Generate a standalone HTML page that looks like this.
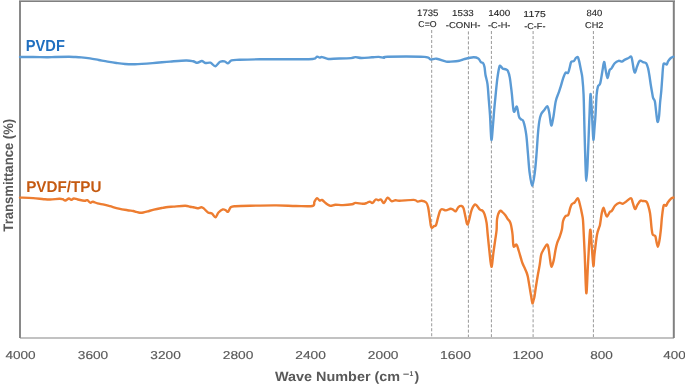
<!DOCTYPE html>
<html><head><meta charset="utf-8"><style>
html,body{margin:0;padding:0;background:#fff;}
body{width:685px;height:385px;overflow:hidden;}
svg{display:block;font-family:"Liberation Sans", sans-serif;will-change:transform;text-rendering:geometricPrecision;}
</style></head><body>
<svg width="685" height="385" viewBox="0 0 685 385">
<rect x="0" y="0" width="685" height="385" fill="#fff"/>
<g stroke="#999" stroke-width="1" stroke-dasharray="3.1,1.87" fill="none">
<line x1="431.7" y1="30" x2="431.7" y2="337" />
<line x1="468.4" y1="31.4" x2="468.4" y2="337" />
<line x1="491.4" y1="31" x2="491.4" y2="337" />
<line x1="533.1" y1="31" x2="533.1" y2="337" />
<line x1="593.4" y1="31" x2="593.4" y2="337" />
</g>
<rect x="20" y="337" width="654" height="2" fill="#c2c2c2"/>
<rect x="19" y="0" width="2" height="338" fill="#898989"/>
<rect x="672.8" y="0" width="2" height="338" fill="#808080"/>
<rect x="19" y="0" width="655.8" height="1" fill="#b0b0b0"/><rect x="19" y="1" width="655.8" height="1" fill="#808080"/>
<g fill="none" stroke-linejoin="round" stroke-linecap="round" stroke-width="2.4">
<path d="M20.00,57.00 C22.17,57.00 28.33,56.95 33.00,57.00 C37.67,57.05 44.33,57.30 48.00,57.30 C51.67,57.30 51.50,57.08 55.00,57.00 C58.50,56.92 65.67,56.80 69.00,56.80 C72.33,56.80 72.95,56.90 75.00,57.00 C77.05,57.10 78.80,57.17 81.30,57.40 C83.80,57.63 87.08,57.97 90.00,58.40 C92.92,58.83 95.87,59.47 98.80,60.00 C101.73,60.53 104.67,61.10 107.60,61.60 C110.53,62.10 113.50,62.60 116.40,63.00 C119.30,63.40 121.90,63.80 125.00,64.00 C128.10,64.20 130.40,64.35 135.00,64.20 C139.60,64.05 146.77,63.53 152.60,63.10 C158.43,62.67 164.43,62.03 170.00,61.60 C175.57,61.17 182.17,60.57 186.00,60.50 C189.83,60.43 191.12,60.82 193.00,61.20 C194.88,61.58 195.83,62.83 197.30,62.80 C198.77,62.77 200.47,60.97 201.80,61.00 C203.13,61.03 203.85,62.72 205.30,63.00 C206.75,63.28 208.83,62.17 210.50,62.70 C212.17,63.23 213.70,66.35 215.30,66.20 C216.90,66.05 218.57,62.60 220.10,61.80 C221.63,61.00 223.18,61.15 224.50,61.40 C225.82,61.65 226.83,63.47 228.00,63.30 C229.17,63.13 229.58,60.98 231.50,60.40 C233.42,59.82 234.75,59.98 239.50,59.80 C244.25,59.62 251.58,59.40 260.00,59.30 C268.42,59.20 281.23,59.25 290.00,59.20 C298.77,59.15 308.10,59.43 312.60,59.00 C317.10,58.57 315.83,56.83 317.00,56.60 C318.17,56.37 318.73,57.52 319.60,57.60 C320.47,57.68 320.75,56.87 322.20,57.10 C323.65,57.33 326.40,58.73 328.30,59.00 C330.20,59.27 329.82,58.85 333.60,58.70 C337.38,58.55 347.35,58.37 351.00,58.10 C354.65,57.83 353.73,57.12 355.50,57.10 C357.27,57.08 358.85,57.97 361.60,58.00 C364.35,58.03 369.13,57.48 372.00,57.30 C374.87,57.12 376.80,56.82 378.80,56.90 C380.80,56.98 382.55,57.83 384.00,57.80 C385.45,57.77 380.78,56.85 387.50,56.70 C394.22,56.55 417.15,56.45 424.30,56.90 C431.45,57.35 428.35,59.10 430.40,59.40 C432.45,59.70 433.97,58.33 436.60,58.70 C439.23,59.07 443.87,61.12 446.20,61.60 C448.53,62.08 448.42,61.73 450.60,61.60 C452.78,61.47 456.97,61.23 459.30,60.80 C461.63,60.37 462.25,59.58 464.60,59.00 C466.95,58.42 471.12,57.38 473.40,57.30 C475.68,57.22 477.05,57.70 478.30,58.50 C479.55,59.30 480.10,61.33 480.90,62.10 C481.70,62.87 482.50,62.27 483.10,63.10 C483.70,63.93 484.10,65.12 484.50,67.10 C484.90,69.08 485.00,72.15 485.50,75.00 C486.00,77.85 486.95,80.03 487.50,84.20 C488.05,88.37 488.38,94.87 488.80,100.00 C489.22,105.13 489.57,108.37 490.00,115.00 C490.43,121.63 490.90,138.13 491.40,139.80 C491.90,141.47 492.53,129.97 493.00,125.00 C493.47,120.03 493.80,114.62 494.20,110.00 C494.60,105.38 494.88,102.48 495.40,97.30 C495.92,92.12 496.65,83.93 497.30,78.90 C497.95,73.87 498.75,69.25 499.30,67.10 C499.85,64.95 500.05,65.78 500.60,66.00 C501.15,66.22 501.72,67.83 502.60,68.40 C503.48,68.97 505.02,68.97 505.90,69.40 C506.78,69.83 507.25,69.63 507.90,71.00 C508.55,72.37 509.15,73.87 509.80,77.60 C510.45,81.33 511.13,87.77 511.80,93.40 C512.47,99.03 512.97,109.20 513.80,111.40 C514.63,113.60 515.93,105.72 516.80,106.60 C517.67,107.48 518.30,114.58 519.00,116.70 C519.70,118.82 520.27,118.53 521.00,119.30 C521.73,120.07 522.53,118.78 523.40,121.30 C524.27,123.82 525.45,129.12 526.20,134.40 C526.95,139.68 527.33,146.65 527.90,153.00 C528.47,159.35 528.88,167.00 529.60,172.50 C530.32,178.00 531.33,186.00 532.20,186.00 C533.07,186.00 534.07,178.00 534.80,172.50 C535.53,167.00 536.08,159.37 536.60,153.00 C537.12,146.63 537.45,139.57 537.90,134.30 C538.35,129.03 538.77,124.73 539.30,121.40 C539.83,118.07 540.27,116.20 541.10,114.30 C541.93,112.40 543.25,111.35 544.30,110.00 C545.35,108.65 546.57,105.72 547.40,106.20 C548.23,106.68 548.75,110.12 549.30,112.90 C549.85,115.68 550.30,120.88 550.70,122.90 C551.10,124.92 551.22,126.20 551.70,125.00 C552.18,123.80 552.93,119.63 553.60,115.70 C554.27,111.77 554.87,105.20 555.70,101.40 C556.53,97.60 557.77,95.37 558.60,92.90 C559.43,90.43 560.00,88.85 560.70,86.60 C561.40,84.35 562.02,81.68 562.80,79.40 C563.58,77.12 564.53,73.98 565.40,72.90 C566.27,71.82 567.32,73.65 568.00,72.90 C568.68,72.15 568.97,70.23 569.50,68.40 C570.03,66.57 570.48,63.10 571.20,61.90 C571.92,60.70 573.03,61.85 573.80,61.20 C574.57,60.55 575.15,58.70 575.80,58.00 C576.45,57.30 577.17,56.57 577.70,57.00 C578.23,57.43 578.45,58.38 579.00,60.60 C579.55,62.82 580.45,67.48 581.00,70.30 C581.55,73.12 581.87,73.38 582.30,77.50 C582.73,81.62 583.23,86.25 583.60,95.00 C583.97,103.75 584.18,118.33 584.50,130.00 C584.82,141.67 585.18,156.55 585.50,165.00 C585.82,173.45 586.07,180.70 586.40,180.70 C586.73,180.70 587.12,172.62 587.50,165.00 C587.88,157.38 588.37,143.33 588.70,135.00 C589.03,126.67 589.20,121.83 589.50,115.00 C589.80,108.17 590.12,94.83 590.50,94.00 C590.88,93.17 591.47,104.83 591.80,110.00 C592.13,115.17 592.23,120.03 592.50,125.00 C592.77,129.97 593.07,139.30 593.40,139.80 C593.73,140.30 594.15,132.13 594.50,128.00 C594.85,123.87 595.15,120.50 595.50,115.00 C595.85,109.50 596.20,99.73 596.60,95.00 C597.00,90.27 597.30,88.55 597.90,86.60 C598.50,84.65 599.45,85.90 600.20,83.30 C600.95,80.70 601.75,74.57 602.40,71.00 C603.05,67.43 603.57,62.12 604.10,61.90 C604.63,61.68 605.02,67.00 605.60,69.70 C606.18,72.40 606.95,78.00 607.60,78.10 C608.25,78.20 608.85,71.92 609.50,70.30 C610.15,68.68 610.63,69.58 611.50,68.40 C612.37,67.22 613.52,64.47 614.70,63.20 C615.88,61.93 617.40,61.07 618.60,60.80 C619.80,60.53 620.92,61.75 621.90,61.60 C622.88,61.45 623.38,60.50 624.50,59.90 C625.62,59.30 627.48,58.53 628.60,58.00 C629.72,57.47 630.55,56.05 631.20,56.70 C631.85,57.35 632.07,59.73 632.50,61.90 C632.93,64.07 633.37,67.97 633.80,69.70 C634.23,71.43 634.55,72.85 635.10,72.30 C635.65,71.75 636.33,68.32 637.10,66.40 C637.87,64.48 638.73,61.52 639.70,60.80 C640.67,60.08 641.82,61.70 642.90,62.10 C643.98,62.50 645.33,62.15 646.20,63.20 C647.07,64.25 647.57,66.35 648.10,68.40 C648.63,70.45 648.95,72.73 649.40,75.50 C649.85,78.27 650.37,82.25 650.80,85.00 C651.23,87.75 651.62,89.85 652.00,92.00 C652.38,94.15 652.62,96.33 653.10,97.90 C653.58,99.47 654.42,99.27 654.90,101.40 C655.38,103.53 655.57,107.30 656.00,110.70 C656.43,114.10 657.00,120.82 657.50,121.80 C658.00,122.78 658.57,119.82 659.00,116.60 C659.43,113.38 659.72,106.80 660.10,102.50 C660.48,98.20 660.97,94.55 661.30,90.80 C661.63,87.05 661.77,84.28 662.10,80.00 C662.43,75.72 662.82,67.80 663.30,65.10 C663.78,62.40 664.43,63.90 665.00,63.80 C665.57,63.70 666.17,64.93 666.70,64.50 C667.23,64.07 667.52,62.28 668.20,61.20 C668.88,60.12 669.93,58.75 670.80,58.00 C671.67,57.25 672.97,56.92 673.40,56.70" stroke="#5b9bd5"/>
<path d="M20.00,197.60 C22.18,197.68 29.15,197.83 33.10,198.10 C37.05,198.37 40.85,198.97 43.70,199.20 C46.55,199.43 47.58,199.58 50.20,199.50 C52.82,199.42 57.32,198.75 59.40,198.70 C61.48,198.65 61.72,198.90 62.70,199.20 C63.68,199.50 64.27,200.62 65.30,200.50 C66.33,200.38 67.92,198.60 68.90,198.50 C69.88,198.40 70.37,199.90 71.20,199.90 C72.03,199.90 72.80,198.57 73.90,198.50 C75.00,198.43 76.05,199.12 77.80,199.50 C79.55,199.88 82.82,200.68 84.40,200.80 C85.98,200.92 86.32,199.88 87.30,200.20 C88.28,200.52 89.37,202.43 90.30,202.70 C91.23,202.97 91.70,201.68 92.90,201.80 C94.10,201.92 95.63,202.92 97.50,203.40 C99.37,203.88 102.02,204.23 104.10,204.70 C106.18,205.17 107.55,205.55 110.00,206.20 C112.45,206.85 115.88,207.93 118.80,208.60 C121.72,209.27 125.10,209.80 127.50,210.20 C129.90,210.60 131.73,210.72 133.20,211.00 C134.67,211.28 135.20,211.62 136.30,211.90 C137.40,212.18 138.63,212.60 139.80,212.70 C140.97,212.80 141.98,212.72 143.30,212.50 C144.62,212.28 145.93,211.88 147.70,211.40 C149.47,210.92 151.42,210.18 153.90,209.60 C156.38,209.02 160.25,208.33 162.60,207.90 C164.95,207.47 166.22,207.22 168.00,207.00 C169.78,206.78 170.43,206.80 173.30,206.60 C176.17,206.40 182.42,205.77 185.20,205.80 C187.98,205.83 188.62,206.55 190.00,206.80 C191.38,207.05 192.27,207.05 193.50,207.30 C194.73,207.55 196.08,208.30 197.40,208.30 C198.72,208.30 200.30,207.25 201.40,207.30 C202.50,207.35 202.90,207.73 204.00,208.60 C205.10,209.47 206.68,211.70 208.00,212.50 C209.32,213.30 210.67,212.60 211.90,213.40 C213.13,214.20 214.30,217.45 215.40,217.30 C216.50,217.15 217.27,213.82 218.50,212.50 C219.73,211.18 221.57,209.77 222.80,209.40 C224.03,209.03 225.02,209.90 225.90,210.30 C226.78,210.70 227.30,212.30 228.10,211.80 C228.90,211.30 229.47,208.23 230.70,207.30 C231.93,206.37 232.28,206.47 235.50,206.20 C238.72,205.93 243.20,205.83 250.00,205.70 C256.80,205.57 268.63,205.35 276.30,205.40 C283.97,205.45 289.98,205.90 296.00,206.00 C302.02,206.10 309.33,206.70 312.40,206.00 C315.47,205.30 313.63,203.12 314.40,201.80 C315.17,200.48 316.13,198.32 317.00,198.10 C317.87,197.88 318.77,200.20 319.60,200.50 C320.43,200.80 321.00,199.47 322.00,199.90 C323.00,200.33 324.23,202.12 325.60,203.10 C326.97,204.08 328.57,205.53 330.20,205.80 C331.83,206.07 333.28,204.82 335.40,204.70 C337.52,204.58 340.12,205.18 342.90,205.10 C345.68,205.02 350.02,204.57 352.10,204.20 C354.18,203.83 353.65,202.97 355.40,202.90 C357.15,202.83 360.75,203.77 362.60,203.80 C364.45,203.83 365.30,203.47 366.50,203.10 C367.70,202.73 368.80,201.63 369.80,201.60 C370.80,201.57 371.52,203.25 372.50,202.90 C373.48,202.55 374.72,199.95 375.70,199.50 C376.68,199.05 377.52,200.20 378.40,200.20 C379.28,200.20 380.08,199.02 381.00,199.50 C381.92,199.98 382.80,203.42 383.90,203.10 C385.00,202.78 386.33,197.92 387.60,197.60 C388.87,197.28 390.20,200.77 391.50,201.20 C392.80,201.63 394.08,200.27 395.40,200.20 C396.72,200.13 396.33,200.85 399.40,200.80 C402.47,200.75 410.73,199.77 413.80,199.90 C416.87,200.03 416.48,201.45 417.80,201.60 C419.12,201.75 420.30,200.65 421.70,200.80 C423.10,200.95 425.13,201.45 426.20,202.50 C427.27,203.55 427.55,204.80 428.10,207.10 C428.65,209.40 429.05,213.23 429.50,216.30 C429.95,219.37 430.42,223.53 430.80,225.50 C431.18,227.47 431.25,228.00 431.80,228.10 C432.35,228.20 433.40,226.58 434.10,226.10 C434.80,225.62 435.35,226.62 436.00,225.20 C436.65,223.78 437.33,219.97 438.00,217.60 C438.67,215.23 439.35,212.42 440.00,211.00 C440.65,209.58 440.92,209.20 441.90,209.10 C442.88,209.00 444.47,210.47 445.90,210.40 C447.33,210.33 449.30,208.82 450.50,208.70 C451.70,208.58 452.23,209.27 453.10,209.70 C453.97,210.13 454.82,211.73 455.70,211.30 C456.58,210.87 457.42,207.98 458.40,207.10 C459.38,206.22 460.73,205.78 461.60,206.00 C462.47,206.22 462.93,206.47 463.60,208.40 C464.27,210.33 464.98,214.93 465.60,217.60 C466.22,220.27 466.72,223.97 467.30,224.40 C467.88,224.83 468.40,222.53 469.10,220.20 C469.80,217.87 470.55,213.02 471.50,210.40 C472.45,207.78 473.82,205.17 474.80,204.50 C475.78,203.83 476.53,205.53 477.40,206.40 C478.27,207.27 479.12,208.97 480.00,209.70 C480.88,210.43 481.93,210.03 482.70,210.80 C483.47,211.57 483.95,212.28 484.60,214.30 C485.25,216.32 486.10,219.72 486.60,222.90 C487.10,226.08 487.15,228.88 487.60,233.40 C488.05,237.92 488.67,244.43 489.30,250.00 C489.93,255.57 490.70,266.47 491.40,266.80 C492.10,267.13 492.87,256.47 493.50,252.00 C494.13,247.53 494.68,243.67 495.20,240.00 C495.72,236.33 496.28,233.52 496.60,230.00 C496.92,226.48 496.57,222.07 497.10,218.90 C497.63,215.73 498.92,212.13 499.80,211.00 C500.68,209.87 501.47,211.40 502.40,212.10 C503.33,212.80 504.52,214.05 505.40,215.20 C506.28,216.35 506.98,217.97 507.70,219.00 C508.42,220.03 509.17,220.48 509.70,221.40 C510.23,222.32 510.55,223.20 510.90,224.50 C511.25,225.80 511.52,227.45 511.80,229.20 C512.08,230.95 512.30,232.13 512.60,235.00 C512.90,237.87 512.95,244.80 513.60,246.40 C514.25,248.00 515.63,243.83 516.50,244.60 C517.37,245.37 518.02,248.57 518.80,251.00 C519.58,253.43 520.57,257.12 521.20,259.20 C521.83,261.28 522.02,262.03 522.60,263.50 C523.18,264.97 524.03,266.50 524.70,268.00 C525.37,269.50 526.08,271.08 526.60,272.50 C527.12,273.92 527.47,275.08 527.80,276.50 C528.13,277.92 528.25,278.95 528.60,281.00 C528.95,283.05 529.47,286.20 529.90,288.80 C530.33,291.40 530.78,294.20 531.20,296.60 C531.62,299.00 532.00,302.63 532.40,303.20 C532.80,303.77 533.25,301.10 533.60,300.00 C533.95,298.90 534.13,298.68 534.50,296.60 C534.87,294.52 535.27,290.97 535.80,287.50 C536.33,284.03 537.07,279.48 537.70,275.80 C538.33,272.12 539.03,268.87 539.60,265.40 C540.17,261.93 540.57,257.40 541.10,255.00 C541.63,252.60 541.85,252.73 542.80,251.00 C543.75,249.27 545.83,244.98 546.80,244.60 C547.77,244.22 548.03,246.07 548.60,248.70 C549.17,251.33 549.72,257.37 550.20,260.40 C550.68,263.43 550.92,266.90 551.50,266.90 C552.08,266.90 553.03,263.23 553.70,260.40 C554.37,257.57 554.92,252.82 555.50,249.90 C556.08,246.98 556.52,245.05 557.20,242.90 C557.88,240.75 558.82,239.23 559.60,237.00 C560.38,234.77 561.33,232.13 561.90,229.50 C562.47,226.87 562.42,223.40 563.00,221.20 C563.58,219.00 564.52,217.37 565.40,216.30 C566.28,215.23 567.52,216.12 568.30,214.80 C569.08,213.48 569.52,210.15 570.10,208.40 C570.68,206.65 571.03,205.32 571.80,204.30 C572.57,203.28 573.72,203.33 574.70,202.30 C575.68,201.27 576.92,198.07 577.70,198.10 C578.48,198.13 578.82,200.50 579.40,202.50 C579.98,204.50 580.65,207.57 581.20,210.10 C581.75,212.63 582.35,215.22 582.70,217.70 C583.05,220.18 582.97,218.92 583.30,225.00 C583.63,231.08 584.20,242.83 584.70,254.20 C585.20,265.57 585.75,291.57 586.30,293.20 C586.85,294.83 587.35,274.55 588.00,264.00 C588.65,253.45 589.55,232.50 590.20,229.90 C590.85,227.30 591.37,242.40 591.90,248.40 C592.43,254.40 592.97,264.93 593.40,265.90 C593.83,266.87 593.90,259.40 594.50,254.20 C595.10,249.00 596.20,239.23 597.00,234.70 C597.80,230.17 598.80,228.65 599.30,227.00 C599.80,225.35 599.58,227.12 600.00,224.80 C600.42,222.48 601.22,215.93 601.80,213.10 C602.38,210.27 602.92,207.80 603.50,207.80 C604.08,207.80 604.72,211.63 605.30,213.10 C605.88,214.57 606.22,216.83 607.00,216.60 C607.78,216.37 609.22,212.63 610.00,211.70 C610.78,210.77 610.83,212.03 611.70,211.00 C612.57,209.97 613.93,206.87 615.20,205.50 C616.47,204.13 618.03,203.10 619.30,202.80 C620.57,202.50 621.63,203.93 622.80,203.70 C623.97,203.47 624.93,202.33 626.30,201.40 C627.67,200.47 629.93,197.92 631.00,198.10 C632.07,198.28 632.02,200.68 632.70,202.50 C633.38,204.32 634.32,208.60 635.10,209.00 C635.88,209.40 636.52,206.27 637.40,204.90 C638.28,203.53 639.55,201.45 640.40,200.80 C641.25,200.15 641.73,200.93 642.50,201.00 C643.27,201.07 644.28,201.00 645.00,201.20 C645.72,201.40 646.22,201.30 646.80,202.20 C647.38,203.10 647.97,204.80 648.50,206.60 C649.03,208.40 649.62,210.77 650.00,213.00 C650.38,215.23 650.53,217.45 650.80,220.00 C651.07,222.55 651.28,225.88 651.60,228.30 C651.92,230.72 652.08,233.20 652.70,234.50 C653.32,235.80 654.70,235.05 655.30,236.10 C655.90,237.15 655.87,239.02 656.30,240.80 C656.73,242.58 657.38,246.80 657.90,246.80 C658.42,246.80 658.88,243.88 659.40,240.80 C659.92,237.72 660.57,232.33 661.00,228.30 C661.43,224.27 661.55,220.40 662.00,216.60 C662.45,212.80 663.02,207.30 663.70,205.50 C664.38,203.70 665.42,206.30 666.10,205.80 C666.78,205.30 667.02,203.67 667.80,202.50 C668.58,201.33 669.87,199.62 670.80,198.80 C671.73,197.98 672.97,197.80 673.40,197.60" stroke="#ed7d31"/>
</g>
<text x="417.09" y="16" font-size="9.25" textLength="21.39" lengthAdjust="spacingAndGlyphs" fill="#262626" stroke="#262626" stroke-width="0.12" stroke-linejoin="round">1735</text>
<text x="418.38" y="27" font-size="8.5" textLength="18.29" lengthAdjust="spacingAndGlyphs" fill="#262626" stroke="#262626" stroke-width="0.12" stroke-linejoin="round">C=O</text>
<text x="452.07" y="16" font-size="8.75" textLength="21.73" lengthAdjust="spacingAndGlyphs" fill="#262626" stroke="#262626" stroke-width="0.12" stroke-linejoin="round">1533</text>
<text x="445.69" y="28" font-size="8.5" textLength="34.74" lengthAdjust="spacingAndGlyphs" fill="#262626" stroke="#262626" stroke-width="0.12" stroke-linejoin="round">-CONH-</text>
<text x="488.30" y="16" font-size="8.75" textLength="22.05" lengthAdjust="spacingAndGlyphs" fill="#262626" stroke="#262626" stroke-width="0.12" stroke-linejoin="round">1400</text>
<text x="487.93" y="28" font-size="8.5" textLength="22.53" lengthAdjust="spacingAndGlyphs" fill="#262626" stroke="#262626" stroke-width="0.12" stroke-linejoin="round">-C-H-</text>
<text x="523.39" y="17" font-size="8.75" textLength="22.43" lengthAdjust="spacingAndGlyphs" fill="#262626" stroke="#262626" stroke-width="0.12" stroke-linejoin="round">1175</text>
<text x="524.24" y="29" font-size="8.5" textLength="21.22" lengthAdjust="spacingAndGlyphs" fill="#262626" stroke="#262626" stroke-width="0.12" stroke-linejoin="round">-C-F-</text>
<text x="586.58" y="16" font-size="9.0" textLength="15.74" lengthAdjust="spacingAndGlyphs" fill="#262626" stroke="#262626" stroke-width="0.12" stroke-linejoin="round">840</text>
<text x="585.14" y="28" font-size="8.5" textLength="18.34" lengthAdjust="spacingAndGlyphs" fill="#262626" stroke="#262626" stroke-width="0.12" stroke-linejoin="round">CH2</text>
<text x="5.46" y="359" font-size="11.5" textLength="30.22" lengthAdjust="spacingAndGlyphs" fill="#595959" stroke="#595959" stroke-width="0.15" stroke-linejoin="round">4000</text>
<text x="77.81" y="359" font-size="11.5" textLength="30.43" lengthAdjust="spacingAndGlyphs" fill="#595959" stroke="#595959" stroke-width="0.15" stroke-linejoin="round">3600</text>
<text x="150.37" y="359" font-size="11.5" textLength="30.43" lengthAdjust="spacingAndGlyphs" fill="#595959" stroke="#595959" stroke-width="0.15" stroke-linejoin="round">3200</text>
<text x="222.75" y="359" font-size="11.5" textLength="30.60" lengthAdjust="spacingAndGlyphs" fill="#595959" stroke="#595959" stroke-width="0.15" stroke-linejoin="round">2800</text>
<text x="295.31" y="359" font-size="11.5" textLength="30.60" lengthAdjust="spacingAndGlyphs" fill="#595959" stroke="#595959" stroke-width="0.15" stroke-linejoin="round">2400</text>
<text x="367.86" y="359" font-size="11.5" textLength="30.60" lengthAdjust="spacingAndGlyphs" fill="#595959" stroke="#595959" stroke-width="0.15" stroke-linejoin="round">2000</text>
<text x="440.05" y="359" font-size="11.5" textLength="30.98" lengthAdjust="spacingAndGlyphs" fill="#595959" stroke="#595959" stroke-width="0.15" stroke-linejoin="round">1600</text>
<text x="512.60" y="359" font-size="11.5" textLength="30.98" lengthAdjust="spacingAndGlyphs" fill="#595959" stroke="#595959" stroke-width="0.15" stroke-linejoin="round">1200</text>
<text x="590.15" y="359" font-size="11.5" textLength="22.64" lengthAdjust="spacingAndGlyphs" fill="#595959" stroke="#595959" stroke-width="0.15" stroke-linejoin="round">800</text>
<text x="663.29" y="359" font-size="11.5" textLength="22.36" lengthAdjust="spacingAndGlyphs" fill="#595959" stroke="#595959" stroke-width="0.15" stroke-linejoin="round">400</text>
<text x="25.86" y="51" font-size="16" textLength="38.97" lengthAdjust="spacingAndGlyphs" fill="#1f6fc0" font-weight="bold">PVDF</text>
<text x="26.13" y="192" font-size="15.5" textLength="75.25" lengthAdjust="spacingAndGlyphs" fill="#c55a11" font-weight="bold">PVDF/TPU</text>
<text x="274.99" y="381" font-size="13.3" textLength="125.20" lengthAdjust="spacingAndGlyphs" fill="#595959" font-weight="bold">Wave Number (cm</text>
<text x="403.01" y="377" font-size="10.5" textLength="6.18" lengthAdjust="spacingAndGlyphs" fill="#595959" font-weight="bold">&#8211;</text>
<text x="409.52" y="376" font-size="7" textLength="3.82" lengthAdjust="spacingAndGlyphs" fill="#595959" font-weight="bold">1</text>
<text x="414.44" y="381" font-size="13.3" textLength="4.72" lengthAdjust="spacingAndGlyphs" fill="#595959" font-weight="bold">)</text>
<text transform="translate(13,231.65) rotate(-90)" x="0" y="0" font-size="13.8" textLength="112.89" lengthAdjust="spacingAndGlyphs" font-weight="bold" fill="#595959">Transmittance (%)</text>
</svg>
</body></html>
